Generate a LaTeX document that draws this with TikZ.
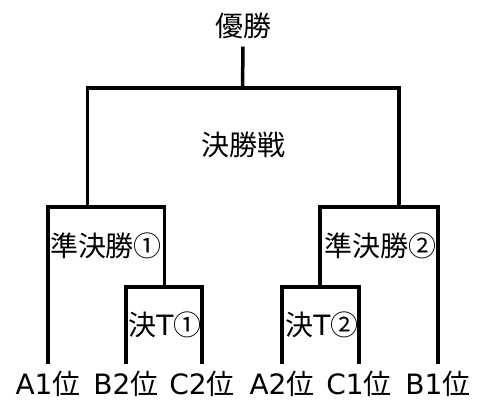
\documentclass[tikz,border=0pt]{standalone}
\usepackage{fontspec}
\setmainfont{Noto Sans CJK JP}
\newfontfamily\latinfont{DejaVu Sans}
\begin{document}
\begin{tikzpicture}[x=1pt,y=-1pt,line width=3.5pt,
	every node/.style={inner sep=0pt,font=\fontsize{28}{32}\selectfont},
	team/.style={anchor=base},
	match/.style={}]
\useasboundingbox (0,0) rectangle (483,401);
% teams
\node[team] (a1) at (48,395) {{\latinfont A1}位};
\node[team] (b2) at (126,395) {{\latinfont B2}位};
\node[team] (c2) at (202,395) {{\latinfont C2}位};
\node[team] (a2) at (282,395) {{\latinfont A2}位};
\node[team] (c1) at (359,395) {{\latinfont C1}位};
\node[team] (b1) at (438,395) {{\latinfont B1}位};
\node (top) at (243,26) {優勝};
% junctions
\coordinate (q1) at (164.5,287);
\coordinate (q2) at (320,287);
\coordinate (s1) at (87.5,207);
\coordinate (s2) at (399,207);
\coordinate (f) at (242.5,88);
\draw ([yshift=6pt]b2.north) |- (q1) -| ([yshift=6pt]c2.north);
\draw ([yshift=6pt]a2.north) |- (q2) -| ([yshift=6pt]c1.north);
\draw ([yshift=6pt]a1.north) |- (s1) -| (q1);
\draw (q2) |- (s2) -| ([yshift=6pt]b1.north);
\draw (s1) |- (f) -| (s2);
\draw (f) -- ([yshift=-6pt]top.south);
% match names
\node[match] (fin) at (243,145) {決勝戦};
\node[match] (sf1) at (106,246) {準決勝①};
\node[match] (sf2) at (380,246) {準決勝②};
\node[match] (qf1) at (165,325) {決{\latinfont T}①};
\node[match] (qf2) at (322,325) {決{\latinfont T}②};
\end{tikzpicture}
\end{document}
